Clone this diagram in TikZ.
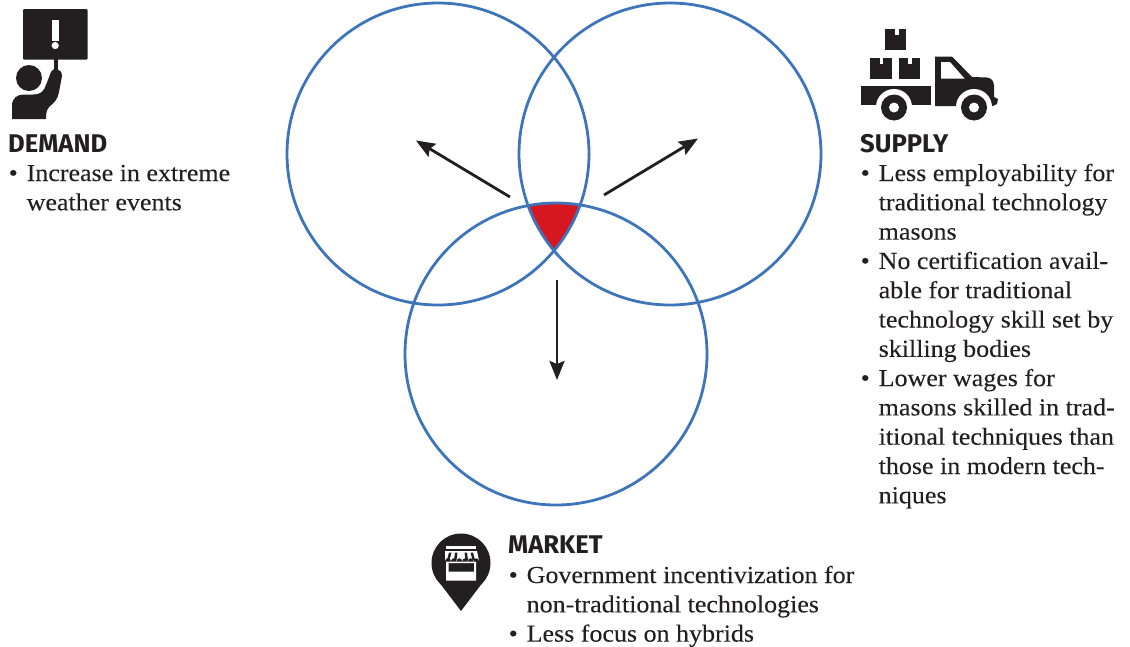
\documentclass[tikz,border=0pt]{standalone}
\usepackage{fontspec}
\setmainfont{Liberation Serif}[FakeStretch=1.065,FakeBold=0.12]
\newfontfamily\headfont{Fira Sans}[BoldFont={Fira Sans Bold}]
\usetikzlibrary{arrows.meta}
\definecolor{ringblue}{HTML}{3E74BA}
\definecolor{hotred}{HTML}{D7171F}
\definecolor{inkblack}{HTML}{231F20}
\newcommand{\bl}{\makebox[18.5pt][l]{\hspace*{0.5pt}•}}
\newcommand{\ind}{\hspace*{18.5pt}}
\newcommand{\linesblock}[1]{\begin{tabular}[t]{@{}l@{}}#1\end{tabular}}
\tikzset{
 ring/.style={circle,draw=ringblue,line width=2.8pt,minimum size=302pt,inner sep=0pt},
 trend/.style={draw=inkblack,line width=2.8pt,-{Stealth[length=19pt,width=15pt,inset=3pt]}},
 heading/.style={anchor=base west,inner sep=0pt,text=inkblack,font=\headfont\bfseries\fontsize{25.6}{30}\selectfont},
 body/.style={anchor=base west,inner sep=0pt,text=inkblack,font=\fontsize{24.4}{29.3}\selectfont},
 ink/.style={fill=inkblack,draw=none},
 paper/.style={fill=white,draw=none}
}
\begin{document}
\begin{tikzpicture}[x=1pt,y=-1pt]
\useasboundingbox (0,0) rectangle (1130,646);
% red overlap
\begin{scope}
 \clip (438,154) circle (151);
 \clip (670,154) circle (151);
 \fill[hotred] (556,354) circle (151);
\end{scope}
\node[ring] (left) at (438,154) {};
\node[ring] (right) at (670,154) {};
\node[ring] (bottom) at (556,354) {};
% arrows
\coordinate (a1s) at (510,197); \coordinate (a1e) at (416,140.5);
\coordinate (a2s) at (604,195); \coordinate (a2e) at (698,138.5);
\coordinate (a3s) at (557,280); \coordinate (a3e) at (557,380);
\draw[trend] (a1s) -- (a1e);
\draw[trend] (a2s) -- (a2e);
\draw[trend] (a3s) -- (a3e);
% demand icon
\fill[ink,rounded corners=1pt] (23,9) rectangle (87.5,59.5);
\fill[paper] (52,20) rectangle (58.5,41);
\fill[paper] (55.2,45.5) circle (3.6);
\fill[ink] (54,59) rectangle (58,72);
\fill[ink] (29,78) circle (13);
\fill[ink] (12,119) -- (12,106) .. controls (12,98) and (17,94.5) .. (24,94.5) -- (33,94.5)
 .. controls (41,94.5) and (44,91) .. (46,85) -- (51,72) .. controls (53,67) and (62,68) .. (62,76)
 -- (59,92) .. controls (58,99) and (54,103) .. (50,106) .. controls (47,109) and (46,112) .. (46,119) -- cycle;
% truck icon
\fill[ink] (885,29) rectangle (906,49.5);
\fill[paper] (894.5,28) rectangle (898.5,35);
\fill[ink] (870,58) rectangle (892,79);
\fill[paper] (879.5,57) rectangle (883,64);
\fill[ink] (899,58) rectangle (920,79);
\fill[paper] (908,57) rectangle (911.5,64);
\fill[ink] (861,86) rectangle (930.5,105);
\fill[ink] (935,56.5) -- (952,56.5) -- (972,77) -- (987,77.5) .. controls (992,78) and (994,82) .. (994,86)
   -- (994,97) -- (998,99) -- (997,104) .. controls (995,106) and (992,106) .. (989,106) -- (935,106) -- cycle;
\fill[paper] (894,107) circle (18);
\fill[paper] (974,107) circle (18);
\fill[paper] (941,62) -- (950,62) -- (964.5,78.5) -- (941,78.5) -- cycle;
\fill[ink] (894,107.5) circle (13);
\fill[paper] (894,107.5) circle (5);
\fill[ink] (974,107.5) circle (13);
\fill[paper] (974,107.5) circle (5);
% market icon
\fill[ink] (461,611) -- (439,582) -- (483,582) -- cycle;
\fill[ink] (461,563) circle (29.5);
\fill[paper] (446,546) rectangle (476,549);
\fill[paper] (445,551) -- (477,551) -- (479,561)
  arc[start angle=0,end angle=-180,radius=2.8] -- (473.4,561)
  arc[start angle=0,end angle=-180,radius=2.8] -- (467.8,561)
  arc[start angle=0,end angle=-180,radius=2.8] -- (462.2,561)
  arc[start angle=0,end angle=-180,radius=2.8] -- (456.6,561)
  arc[start angle=0,end angle=-180,radius=2.8] -- (451,561)
  arc[start angle=0,end angle=-180,radius=3] -- cycle;
\fill[inkblack] (449,552.5) -- (451.5,552.5) -- (449.5,560) -- (447,560) -- cycle;
\fill[inkblack] (455,552.5) -- (457.5,552.5) -- (456.5,560) -- (454,560) -- cycle;
\fill[inkblack] (464.5,552.5) -- (467,552.5) -- (468,560) -- (465.5,560) -- cycle;
\fill[inkblack] (470.5,552.5) -- (473,552.5) -- (475,560) -- (472.5,560) -- cycle;
\fill[paper,even odd rule] (446,561.5) rectangle (476,580.5) (448.5,563) rectangle (474,571.5);
% text
\node[heading] (dh) at (8,152) {DEMAND};
\node[body] (db) at (8,181) {\linesblock{\bl Increase in extreme\\\ind weather events}};
\node[heading] (sh) at (860,152) {SUPPLY};
\node[body] (sb) at (860,181) {\linesblock{\bl Less employability for\\\ind traditional technology\\\ind masons\\\bl No certification avail-\\\ind able for traditional\\\ind technology skill set by\\\ind skilling bodies\\\bl Lower wages for\\\ind masons skilled in trad-\\\ind itional techniques than\\\ind those in modern tech-\\\ind niques}};
\node[heading] (mh) at (508,553) {MARKET};
\node[body] (mb) at (508,583) {\linesblock{\bl Government incentivization for\\\ind non-traditional technologies\\\bl Less focus on hybrids}};
\end{tikzpicture}
\end{document}
